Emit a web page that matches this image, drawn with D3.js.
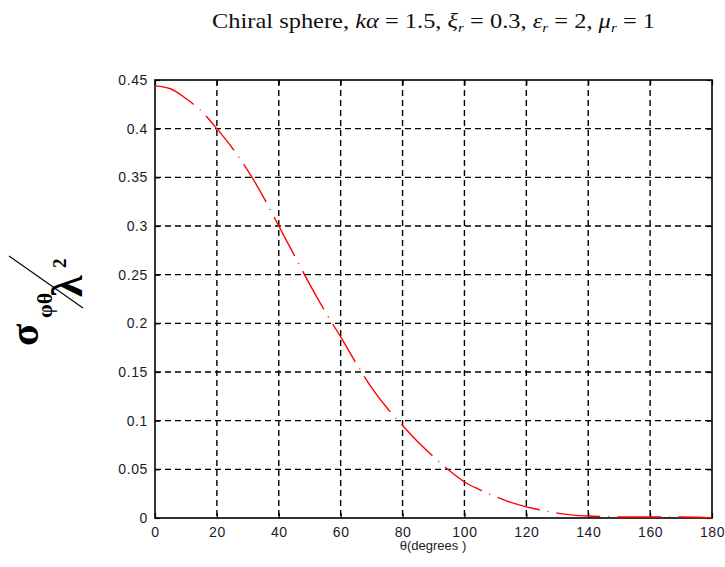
<!DOCTYPE html>
<html lang="en">
  <head>
    <meta charset="UTF-8" />
    <title>Chiral sphere</title>
    <script src="https://cdn.jsdelivr.net/npm/d3@7/dist/d3.min.js"></script>
    <style>
      body {
        margin: 0;
        padding: 0;
        background: #fff;
      }
    </style>
  </head>

  <body>
    <svg width="725" height="567"></svg>

    <script>
      // angle (degrees) and sigma/lambda^2
      var theta = [0, 5, 10, 15, 20, 25, 30, 35, 40, 45, 50, 55, 60, 65, 70, 75, 80, 85, 90,
        95, 100, 105, 110, 115, 120, 125, 130, 135, 140, 145, 150, 155, 160, 165, 170, 175, 180]
      var sigma = [0.444, 0.441, 0.431, 0.418, 0.4, 0.38, 0.357, 0.33, 0.3, 0.27, 0.24, 0.212,
        0.186, 0.159, 0.134, 0.113, 0.095, 0.078, 0.063, 0.049, 0.037, 0.029, 0.022, 0.016,
        0.0115, 0.008, 0.005, 0.003, 0.002, 0.0015, 0.001, 0.001, 0.001, 0.001, 0.001, 0.0008, 0]
      var xTicks = [0, 20, 40, 60, 80, 100, 120, 140, 160, 180]
      var yTicks = [0, 0.05, 0.1, 0.15, 0.2, 0.25, 0.3, 0.35, 0.4, 0.45]
      var yTickLabels = ['0', '0.05', '0.1', '0.15', '0.2', '0.25', '0.3', '0.35', '0.4', '0.45']

      var config = {
        margin: { top: 80, right: 13, bottom: 49, left: 155 },
      }

      var svg = d3.select('svg')
      var width = +svg.attr('width')
      var height = +svg.attr('height')
      var bottom = height - config.margin.top - config.margin.bottom
      var right = width - config.margin.left - config.margin.right

      var g = svg
        .append('g')
        .attr('transform', `translate(${config.margin.left}, ${config.margin.top})`)

      var xScale = d3.scaleLinear().domain([0, 180]).range([0, right])
      var yScale = d3.scaleLinear().domain([0, 0.45]).range([bottom, 0])

      // dashed grid
      g.append('g')
        .selectAll('line')
        .data(xTicks.slice(1, -1))
        .enter()
        .append('line')
        .attr('x1', (d) => xScale(d))
        .attr('x2', (d) => xScale(d))
        .attr('y1', 0)
        .attr('y2', bottom)
        .attr('stroke', '#000')
        .attr('stroke-width', 1.4)
        .attr('stroke-dasharray', '6,4')

      g.append('g')
        .selectAll('line')
        .data(yTicks.slice(1, -1))
        .enter()
        .append('line')
        .attr('x1', 0)
        .attr('x2', right)
        .attr('y1', (d) => yScale(d))
        .attr('y2', (d) => yScale(d))
        .attr('stroke', '#000')
        .attr('stroke-width', 1.4)
        .attr('stroke-dasharray', '6,4')

      // axes with inward ticks
      var xAxis = d3.axisBottom(xScale).tickValues(xTicks).tickSize(-5).tickPadding(9)
      var xAxisTop = d3.axisTop(xScale).tickValues(xTicks).tickSize(-5).tickFormat('')
      var yAxis = d3
        .axisLeft(yScale)
        .tickValues(yTicks)
        .tickSize(-5)
        .tickPadding(7)
        .tickFormat((d, i) => yTickLabels[i])
      var yAxisRight = d3.axisRight(yScale).tickValues(yTicks).tickSize(-5).tickFormat('')

      g.append('g').attr('class', 'axis').attr('transform', `translate(0, ${bottom})`).call(xAxis)
      g.append('g').attr('class', 'axis').call(xAxisTop)
      g.append('g').attr('class', 'axis').call(yAxis)
      g.append('g').attr('class', 'axis').attr('transform', `translate(${right}, 0)`).call(yAxisRight)

      g.selectAll('.axis .domain').remove()
      g.selectAll('.axis line').attr('stroke', '#000').attr('stroke-width', 1.2)
      g.selectAll('.axis text')
        .attr('font-family', 'Liberation Sans, Arial, sans-serif')
        .attr('font-size', 14)
        .attr('letter-spacing', 0.6)
        .attr('fill', '#1a1a2a')

      g.append('rect')
        .attr('width', right)
        .attr('height', bottom)
        .attr('fill', 'none')
        .attr('stroke', '#000')
        .attr('stroke-width', 1.6)

      // the curve
      var line = d3
        .line()
        .x((d, i) => xScale(theta[i]))
        .y((d) => yScale(d))
        .curve(d3.curveMonotoneX)

      g.append('path')
        .datum(sigma)
        .attr('d', line)
        .attr('fill', 'none')
        .attr('stroke', '#ff0000')
        .attr('stroke-width', 1.4)
        .attr('stroke-dasharray', '44,8,1,8')

      // x label
      svg.append('text')
        .attr('x', 433)
        .attr('y', 550)
        .attr('text-anchor', 'middle')
        .attr('font-family', 'Liberation Sans, Arial, sans-serif')
        .attr('font-size', 13)
        .attr('fill', '#1a1a2a')
        .text('θ(degrees )')

      // title
      var title = svg
        .append('text')
        .attr('x', 212)
        .attr('y', 28)
        .attr('font-family', 'Liberation Serif, Times New Roman, serif')
        .attr('font-size', 21)
        .attr('fill', '#111')
        .attr('textLength', 443)
        .attr('lengthAdjust', 'spacingAndGlyphs')
      title.append('tspan').text('Chiral sphere,  ')
      title.append('tspan').attr('font-style', 'italic').text('kα')
      title.append('tspan').text(' = 1.5, ')
      title.append('tspan').attr('font-style', 'italic').text('ξ')
      title.append('tspan').attr('font-style', 'italic').attr('font-size', 13).attr('dy', 4).text('r')
      title.append('tspan').attr('dy', -4).text(' = 0.3, ')
      title.append('tspan').attr('font-style', 'italic').text('ε')
      title.append('tspan').attr('font-style', 'italic').attr('font-size', 13).attr('dy', 4).text('r')
      title.append('tspan').attr('dy', -4).text(' = 2, ')
      title.append('tspan').attr('font-style', 'italic').text('μ')
      title.append('tspan').attr('font-style', 'italic').attr('font-size', 13).attr('dy', 4).text('r')
      title.append('tspan').attr('dy', -4).text(' = 1')

      // y label: sigma_phi-theta / lambda^2, rotated
      var ylab = svg.append('g').attr('font-family', 'Liberation Serif, Times New Roman, serif')
        .attr('font-weight', 'bold').attr('fill', '#000')
      ylab.append('text').attr('transform', 'translate(38, 346) rotate(-90)')
        .attr('font-size', 41).text('σ')
      ylab.append('text').attr('transform', 'translate(52, 318) rotate(-90)')
        .attr('font-size', 22).text('φθ')
      ylab.append('text').attr('transform', 'translate(82, 297) rotate(-90)')
        .attr('font-size', 44).text('λ')
      ylab.append('text').attr('transform', 'translate(66, 268) rotate(-90)')
        .attr('font-size', 19).text('2')
      ylab.append('line')
        .attr('x1', 9).attr('y1', 256).attr('x2', 83).attr('y2', 308)
        .attr('stroke', '#000').attr('stroke-width', 1.1)
    </script>
  </body>
</html>
